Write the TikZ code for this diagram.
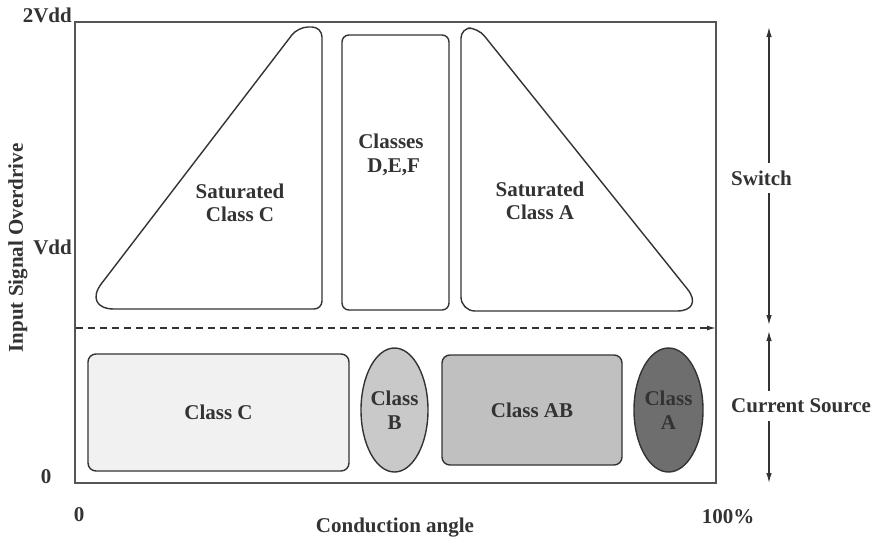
\documentclass[tikz,border=0pt]{standalone}
\usepackage{fontspec}
\setmainfont{Liberation Serif}
\usetikzlibrary{arrows.meta,shapes.geometric}
\definecolor{ink}{HTML}{333333}
\definecolor{frameC}{HTML}{555555}
\definecolor{fillC}{HTML}{F1F1F1}
\definecolor{fillB}{HTML}{C9C9C9}
\definecolor{fillAB}{HTML}{C0C0C0}
\definecolor{fillA}{HTML}{6E6E6E}
\tikzset{
  lbl/.style={font=\fontsize{21}{23.5}\selectfont\bfseries, text=ink, inner sep=0pt, align=center},
  shapeline/.style={draw=ink, line width=1.4pt},
  boxshape/.style={shapeline, rectangle, rounded corners=8pt, inner sep=0pt},
  ellshape/.style={shapeline, ellipse, inner sep=0pt},
  tip/.style={-{Latex[length=9pt,width=5pt]}},
  dtip/.style={{Latex[length=10pt,width=5.5pt]}-{Latex[length=10pt,width=5.5pt]}},
}
\begin{document}
\begin{tikzpicture}[x=1pt,y=-1pt]
\useasboundingbox[fill=white] (0,0) rectangle (883,541);
% frame
\draw[frameC, line width=1.5pt] (75,22) rectangle (716,483);
% axis labels
\node[lbl, anchor=east] (l2vdd) at (72,15) {2Vdd};
\node[lbl, anchor=east] (lvdd) at (72,247) {Vdd};
\node[lbl] (l0y) at (46,477) {0};
\node[lbl] (l0x) at (79,515) {0};
\node[lbl] (l100) at (728,517) {100\%};
\node[lbl] (lcond) at (395,528) {Conduction angle};
\node[lbl, rotate=90] (linput) at (18,248) {Input Signal Overdrive};
% Saturated Class C
\draw[shapeline, rounded corners=8pt] (322,170) -- (322,309) [rounded corners=32pt] -- (82,309) [rounded corners=10pt] -- (298,27) -- (322,27) -- cycle;
\node[lbl] (satc) at (240,203) {Saturated\\Class C};
% Classes D,E,F
\draw[shapeline, rounded corners=7pt] (342,35) rectangle (449,310);
\node[lbl] (def) at (391,155) {Classes\\\ D,E,F};
% Saturated Class A
\draw[shapeline, rounded corners=10pt] (461,170) -- (461,28) -- (478,28) [rounded corners=28pt] -- (705,311) [rounded corners=14pt] -- (461,311) -- cycle;
\node[lbl] (sata) at (540,201) {Saturated\\Class A};
% dashed boundary
\coordinate (dl) at (76,328);
\coordinate (dr) at (716,328);
\draw[ink, line width=1.3pt, dash pattern=on 7pt off 5pt, tip] (dl) -- (dr);
% current-source classes
\node[boxshape, fill=fillC, minimum width=261pt, minimum height=117pt] (cc) at (218.5,412.5) {};
\node[lbl] at (cc) {Class C};
\node[ellshape, fill=fillB, minimum width=67pt, minimum height=124pt] (cb) at (394.5,410) {};
\node[lbl] at (cb) {Class\\B};
\node[boxshape, fill=fillAB, minimum width=180pt, minimum height=110pt] (cab) at (532,410) {};
\node[lbl] at (cab) {Class AB};
\node[ellshape, fill=fillA, minimum width=69pt, minimum height=124pt] (ca) at (668.5,410) {};
\node[lbl, text=black!80] at (ca) {Class\\A};
% right-hand ranges
\coordinate (swt) at (769,27);
\coordinate (swb) at (769,325);
\coordinate (cst) at (769,331);
\coordinate (csb) at (769,483);
\draw[ink, line width=1.2pt, dtip] (swt) -- (swb);
\draw[ink, line width=1.2pt, dtip] (cst) -- (csb);
\node[lbl, anchor=west, fill=white, inner xsep=1pt, inner ysep=8pt] (sw) at (730,178) {Switch};
\node[lbl, anchor=west, fill=white, inner xsep=1pt, inner ysep=8pt] (cs) at (730,406) {Current Source};
\end{tikzpicture}
\end{document}
